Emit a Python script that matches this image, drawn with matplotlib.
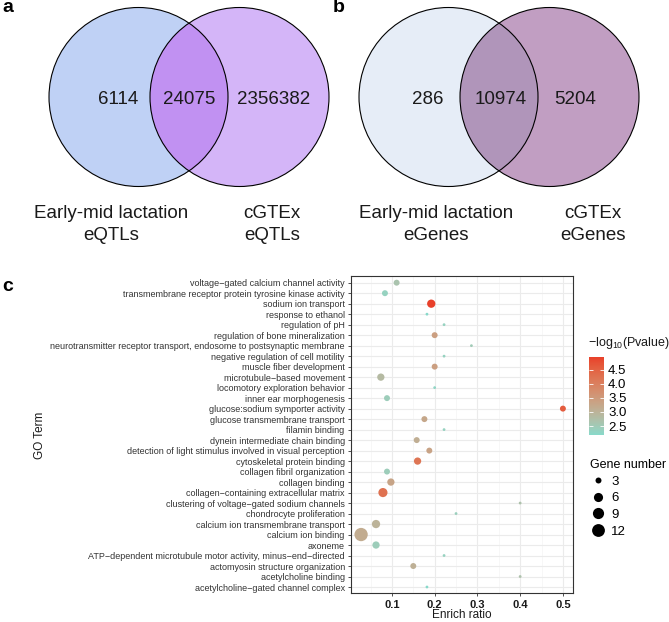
import numpy as np
import matplotlib
matplotlib.use("Agg")
import matplotlib.pyplot as plt
from matplotlib.patches import Circle
from matplotlib.lines import Line2D
from matplotlib.colors import ListedColormap, Normalize, to_rgb
import matplotlib.cm as cm

plt.rcParams['font.family'] = ['Liberation Sans', 'DejaVu Sans']
plt.rcParams['mathtext.fontset'] = 'custom'
plt.rcParams['mathtext.rm'] = 'Liberation Sans'
plt.rcParams['mathtext.it'] = 'Liberation Sans:italic'

# venn counts: left only, shared, right only
venn_a_counts = [6114, 24075, 2356382]
venn_a_names = ["Early-mid lactation\neQTLs", "cGTEx\neQTLs"]
venn_b_counts = [286, 10974, 5204]
venn_b_names = ["Early-mid lactation\neGenes", "cGTEx\neGenes"]

# GO enrichment, listed top to bottom as drawn
go_terms = [
    "voltage\u2212gated calcium channel activity",
    "transmembrane receptor protein tyrosine kinase activity",
    "sodium ion transport",
    "response to ethanol",
    "regulation of pH",
    "regulation of bone mineralization",
    "neurotransmitter receptor transport, endosome to postsynaptic membrane",
    "negative regulation of cell motility",
    "muscle fiber development",
    "microtubule\u2212based movement",
    "locomotory exploration behavior",
    "inner ear morphogenesis",
    "glucose:sodium symporter activity",
    "glucose transmembrane transport",
    "filamin binding",
    "dynein intermediate chain binding",
    "detection of light stimulus involved in visual perception",
    "cytoskeletal protein binding",
    "collagen fibril organization",
    "collagen binding",
    "collagen\u2212containing extracellular matrix",
    "clustering of voltage\u2212gated sodium channels",
    "chondrocyte proliferation",
    "calcium ion transmembrane transport",
    "calcium ion binding",
    "axoneme",
    "ATP\u2212dependent microtubule motor activity, minus\u2212end\u2212directed",
    "actomyosin structure organization",
    "acetylcholine binding",
    "acetylcholine\u2212gated channel complex",
]
enrich_ratio = [0.111, 0.0837, 0.192, 0.182, 0.222, 0.200, 0.286, 0.222, 0.200, 0.0741,
                0.200, 0.0885, 0.500, 0.176, 0.222, 0.158, 0.1875, 0.160, 0.0885, 0.0976,
                0.0790, 0.400, 0.250, 0.0628, 0.0279, 0.0628, 0.222, 0.150, 0.400, 0.182]
gene_number = [3, 3, 5, 2, 2, 3, 2, 2, 3, 4,
               2, 3, 3, 3, 2, 3, 3, 4, 3, 4,
               6, 2, 2, 5, 13, 4, 2, 3, 2, 2]
neg_log_p = [2.65, 2.35, 4.96, 2.18, 2.35, 3.40, 2.50, 2.35, 3.40, 2.85,
             2.27, 2.45, 4.60, 3.25, 2.35, 3.10, 3.33, 4.20, 2.45, 3.30,
             4.25, 2.70, 2.40, 3.00, 3.15, 2.45, 2.35, 3.05, 2.70, 2.18]
size_breaks = [3, 6, 9, 12]
color_breaks = [2.5, 3.0, 3.5, 4.0, 4.5]

W, H = 669, 622
fig = plt.figure(figsize=(W / 100, H / 100), dpi=100)


# ---------- venn panels ----------
def draw_venn(ax, mid, counts, names, cols, num_x, name_x):
    left = Circle((mid - 50.5, 97), 89.5, facecolor=cols[0], edgecolor='none')
    right = Circle((mid + 50.5, 97), 89.5, facecolor=cols[1], edgecolor='none')
    ax.add_patch(left)
    ax.add_patch(right)
    inter = Circle((mid + 50.5, 97), 89.5, facecolor=cols[2], edgecolor='none')
    ax.add_patch(inter)
    inter.set_clip_path(left)
    for c in (mid - 50.5, mid + 50.5):
        ax.add_patch(Circle((c, 97), 89.5, fill=False, edgecolor='black', lw=0.8))
    for cnt, dx in zip(counts, num_x):
        ax.text(mid + dx, 100, str(cnt), ha='center', va='center', fontsize=13.5, color='#1a1a1a')
    for nm, dx in zip(names, name_x):
        for line, y in zip(nm.split('\n'), (212, 233)):
            ax.text(mid + dx, y, line, ha='center', va='center_baseline', fontsize=13.5,
                    color='#1a1a1a')


ax_v = fig.add_axes([0, 1 - 270 / H, 1, 270 / H])
ax_v.set_xlim(0, W)
ax_v.set_ylim(270, 0)
ax_v.axis('off')
draw_venn(ax_v, 189, venn_a_counts, venn_a_names, ['#bfd1f5', '#d4b5f8', '#c191f2'],
          [-71, 0, 85], [-78, 83])
draw_venn(ax_v, 499, venn_b_counts, venn_b_names, ['#e6edf7', '#c19ec2', '#b095ba'],
          [-71, 2, 76], [-63, 94])

fig.text(2 / W, 1 - 7 / H, 'a', fontsize=14, fontweight='bold', ha='left', va='center')
fig.text(333 / W, 1 - 8 / H, 'b', fontsize=14, fontweight='bold', ha='left', va='center')
fig.text(2 / W, 1 - 287 / H, 'c', fontsize=14, fontweight='bold', ha='left', va='center')


# ---------- colour scale (ggplot-like Lab gradient) ----------
M = np.array([[0.4124, 0.3576, 0.1805], [0.2126, 0.7152, 0.0722], [0.0193, 0.1192, 0.9505]])
WHITE = np.array([0.95047, 1.0, 1.08883])


def to_lab(c):
    rgb = np.array(to_rgb(c))
    lin = np.where(rgb <= 0.04045, rgb / 12.92, ((rgb + 0.055) / 1.055) ** 2.4)
    xyz = M @ lin / WHITE
    f = np.where(xyz > 0.008856, np.cbrt(xyz), 7.787 * xyz + 16 / 116)
    return np.array([116 * f[1] - 16, 500 * (f[0] - f[1]), 200 * (f[1] - f[2])])


def from_lab(lab):
    fy = (lab[0] + 16) / 116
    f = np.array([fy + lab[1] / 500, fy, fy - lab[2] / 200])
    xyz = np.where(f ** 3 > 0.008856, f ** 3, (f - 16 / 116) / 7.787) * WHITE
    lin = np.linalg.solve(M, xyz)
    lin = np.clip(lin, 0, None)
    rgb = np.where(lin <= 0.0031308, 12.92 * lin, 1.055 * lin ** (1 / 2.4) - 0.055)
    return np.clip(rgb, 0, 1)


lo, hi = to_lab('#88d9ca'), to_lab('#e8402a')
cmap = ListedColormap([from_lab(lo + t * (hi - lo)) for t in np.linspace(0, 1, 256)])
norm = Normalize(min(neg_log_p), max(neg_log_p))

nmin, nmax = min(gene_number), max(gene_number)


def dot_diam(n):
    size_mm = 1 + 5 * np.sqrt((np.asarray(n, float) - nmin) / (nmax - nmin))
    return 0.5317 * (2.845 * size_mm + 0.94)


# ---------- dot plot ----------
ax = fig.add_axes([351 / W, 1 - 593.3 / H, 222 / W, 316.9 / H])
ypos = np.arange(len(go_terms))[::-1]
ax.scatter(enrich_ratio, ypos, s=dot_diam(gene_number) ** 2, c=neg_log_p,
           cmap=cmap, norm=norm, linewidths=0, zorder=3)
span = max(enrich_ratio) - min(enrich_ratio)
ax.set_xlim(min(enrich_ratio) - 0.05 * span, max(enrich_ratio) + 0.05 * span)
ax.set_ylim(-0.6, len(go_terms) - 0.4)
ax.set_yticks(ypos)
ax.set_yticklabels(go_terms, fontsize=6.5, color='#333333')
ax.set_xticks([0.1, 0.2, 0.3, 0.4, 0.5])
ax.set_xticklabels(['0.1', '0.2', '0.3', '0.4', '0.5'], fontsize=8, fontweight='bold',
                   color='#1a1a1a')
ax.set_xticks([0.05, 0.15, 0.25, 0.35, 0.45], minor=True)
ax.tick_params(which='major', length=2.5, width=0.6, color='#333333', pad=2)
ax.tick_params(which='minor', length=0)
ax.grid(which='major', color='#ebebeb', lw=0.8)
ax.grid(which='minor', color='#f2f2f2', lw=0.4)
ax.set_axisbelow(True)
for sp in ax.spines.values():
    sp.set_color('#333333')
    sp.set_linewidth(0.8)

fig.text(462 / W, 1 - 615 / H, 'Enrich ratio', fontsize=8.5, ha='center', va='center',
         color='#1a1a1a')
fig.text(40 / W, 1 - 435 / H, 'GO Term', fontsize=8.5, ha='center', va='center',
         rotation=90, color='#1a1a1a')

# colour bar
cax = fig.add_axes([589 / W, 1 - 435 / H, 15 / W, 78 / H])
cb = fig.colorbar(cm.ScalarMappable(norm=norm, cmap=cmap), cax=cax, ticks=color_breaks)
cb.outline.set_visible(False)
cax.tick_params(left=True, right=True, labelleft=False, labelright=True, direction='in',
                color='white', length=3, width=0.6, labelsize=9.5, pad=3)
cax.set_yticklabels([f'{v:.1f}' for v in color_breaks])
fig.text(588 / W, 1 - 343 / H, r'$-\mathrm{log}_{10}$(Pvalue)', fontsize=9, ha='left',
         va='center', color='#1a1a1a')

# size legend
handles = [Line2D([], [], ls='', marker='o', markersize=float(dot_diam(n)), color='black',
                  markeredgewidth=0) for n in size_breaks]
leg = fig.legend(handles, [str(n) for n in size_breaks], title='Gene number',
                 loc='upper left', bbox_to_anchor=(581 / W, 1 - 450 / H), frameon=False,
                 fontsize=9.5, title_fontsize=9, labelspacing=0.33, handletextpad=0.4,
                 handlelength=1.2, borderpad=0.2, alignment='left')

fig.savefig('out.png', dpi=100)
